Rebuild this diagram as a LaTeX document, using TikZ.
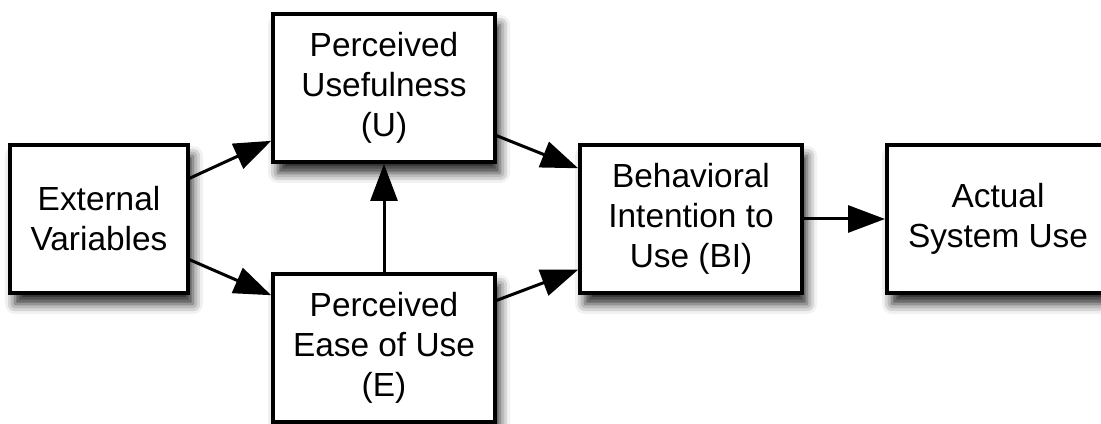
\documentclass[tikz,border=0pt]{standalone}
\usepackage{fontspec}
\setmainfont{Liberation Sans}
\usetikzlibrary{positioning,arrows.meta,shadows.blur}

\begin{document}
\begin{tikzpicture}[
  box/.style={draw, line width=1.6pt, fill=white, minimum width=111pt, minimum height=74pt,
    outer sep=0pt, align=center, font=\fontsize{16.7}{20}\selectfont,
    blur shadow={shadow xshift=2.5pt, shadow yshift=-5.5pt, shadow blur radius=5pt, shadow opacity=85}},
  link/.style={-{Triangle[length=18.5pt,width=13.5pt]}, line width=1.5pt, shorten >=1pt}
]
\useasboundingbox (0,0) rectangle (550.5pt,211.5pt);
\clip (0,0) rectangle (550.5pt,211.5pt);

\node[box, minimum width=89pt] (ext) at (49.5pt,102pt) {External\\Variables};
\node[box, above right=-8.5pt and 42.5pt of ext] (pu) {Perceived\\Usefulness\\(U)};
\node[box, below right=-9.5pt and 42.5pt of ext, minimum height=74pt] (peou) {Perceived\\Ease of Use\\(E)};
\node[box, right=196pt of ext] (bi) {Behavioral\\Intention to\\Use (BI)};
% right side of this box runs off the page
\node[box, right=42.5pt of bi, minimum width=130pt] (use) {Actual\hspace*{19pt}\\System Use\hspace*{19pt}};

\draw[link] ([yshift=20pt]ext.east) -- ([yshift=-26pt]pu.west);
\draw[link] ([yshift=-20pt]ext.east) -- ([yshift=26pt]peou.west);
\draw[link] (peou.north) -- (pu.south);
\draw[link] ([yshift=-23.5pt]pu.east) -- ([yshift=25pt]bi.west);
\draw[link] ([yshift=23.5pt]peou.east) -- ([yshift=-25pt]bi.west);
\draw[link] (bi.east) -- (use.west);
\end{tikzpicture}
\end{document}
